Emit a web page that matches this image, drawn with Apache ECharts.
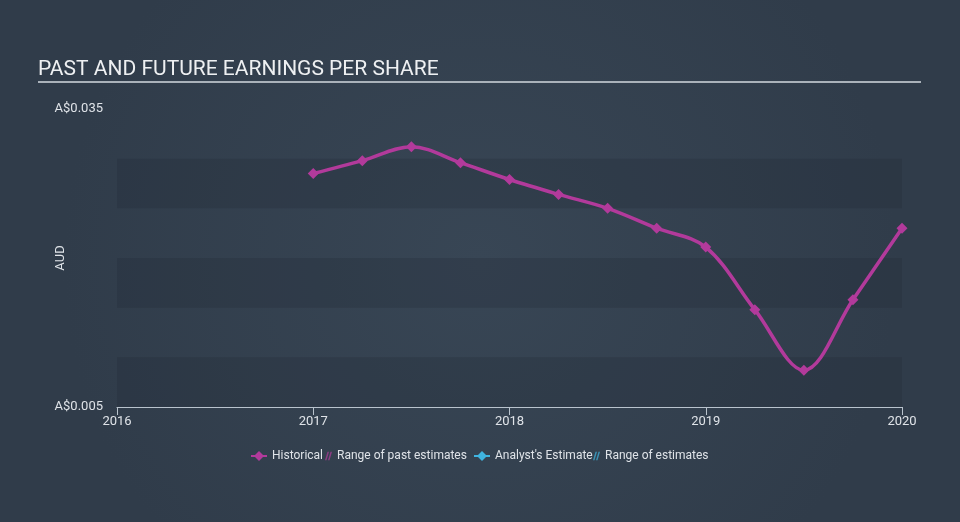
<!DOCTYPE html>
<html>
<head>
<meta charset="utf-8">
<script src="https://cdn.jsdelivr.net/npm/echarts@6/dist/echarts.min.js"></script>
<style>
html,body{margin:0;padding:0;background:#333f4d;}
#chart{width:960px;height:522px;}
</style>
</head>
<body>
<div id="chart"></div>
<script>
// Data
var years = [2017, 2017.25, 2017.5, 2017.75, 2018, 2018.25, 2018.5, 2018.75, 2019, 2019.25, 2019.5, 2019.75, 2020];
var eps = [0.0285, 0.0298, 0.0312, 0.0296, 0.0279, 0.0264, 0.0250, 0.0230, 0.0211, 0.0148, 0.0087, 0.0158, 0.0230];
var xTicks = [2016, 2017, 2018, 2019, 2020];
var yMin = 0.005, yMax = 0.035;

var chart = echarts.init(document.getElementById('chart'), null, {renderer: 'canvas'});
var textColor = '#dfe3e8';
var histColor = '#b23a9b';
var estColor = '#3fb4e0';

var option = {
  backgroundColor: {
    type: 'radial', x: 0.5, y: 0.5, r: 0.8,
    colorStops: [{offset: 0, color: '#384655'}, {offset: 1, color: '#303c4a'}]
  },
  title: {
    text: 'PAST AND FUTURE EARNINGS PER SHARE',
    left: 38, top: 59, padding: 0,
    textStyle: {color: '#eef0f2', fontFamily: 'Roboto', fontWeight: 'normal', fontSize: 21}
  },
  graphic: [{
    type: 'line', shape: {x1: 38, y1: 82, x2: 921, y2: 82},
    style: {stroke: '#aab2ba', lineWidth: 2}
  }],
  legend: [
    {data: [{name: 'Historical', icon: 'path://M0,4L4,4L8,0L12,4L16,4L16,6L12,6L8,10L4,6L0,6Z'}],
     left: 251, top: 450, padding: 0, itemWidth: 16, itemHeight: 10,
     textStyle: {color: textColor, fontFamily: 'Roboto', fontSize: 12}},
    {data: [{name: 'Range of past estimates', icon: 'path://M0,10L1.8,10L4.8,0L3,0Z M3.6,10L5.4,10L8.4,0L6.6,0Z'}],
     left: 325, top: 450, padding: 0, itemWidth: 7, itemHeight: 9,
     textStyle: {color: textColor, fontFamily: 'Roboto', fontSize: 12}},
    {data: [{name: "Analyst's Estimate", icon: 'path://M0,4L4,4L8,0L12,4L16,4L16,6L12,6L8,10L4,6L0,6Z'}],
     left: 474, top: 450, padding: 0, itemWidth: 16, itemHeight: 10,
     textStyle: {color: textColor, fontFamily: 'Roboto', fontSize: 12}},
    {data: [{name: 'Range of estimates', icon: 'path://M0,10L1.8,10L4.8,0L3,0Z M3.6,10L5.4,10L8.4,0L6.6,0Z'}],
     left: 593, top: 450, padding: 0, itemWidth: 7, itemHeight: 9,
     textStyle: {color: textColor, fontFamily: 'Roboto', fontSize: 12}}
  ],
  grid: {left: 117, right: 58, top: 109, bottom: 115, containLabel: false},
  xAxis: {
    type: 'value', min: 2016, max: 2020, interval: 1,
    axisLine: {show: true, lineStyle: {color: '#b9c3cd', width: 1}},
    axisTick: {show: true, length: 8, lineStyle: {color: '#b9c3cd'}},
    axisLabel: {color: textColor, fontFamily: 'Roboto', fontSize: 13, margin: 8,
      formatter: function(v){ return xTicks.indexOf(v) >= 0 ? String(v) : ''; }},
    splitLine: {show: false}
  },
  yAxis: {
    type: 'value', min: yMin, max: yMax, interval: 0.005,
    name: 'AUD', nameLocation: 'middle', nameGap: 50, nameRotate: 90, nameMoveOverlap: false,
    nameTextStyle: {color: textColor, fontFamily: 'Roboto', fontSize: 13},
    axisLine: {show: false}, axisTick: {show: false},
    axisLabel: {color: textColor, fontFamily: 'Roboto', fontSize: 13, margin: 14,
      formatter: function(v){
        if (Math.abs(v - yMin) < 1e-9) return 'A$0.005';
        if (Math.abs(v - yMax) < 1e-9) return 'A$0.035';
        return '';
      }},
    splitLine: {show: false},
    splitArea: {show: true, areaStyle: {color: ['rgba(30,40,52,0.25)', 'rgba(0,0,0,0)']}}
  },
  series: [
    {name: 'Historical', type: 'line', smooth: 0.35,
     data: years.map(function(y, i){ return [y, eps[i]]; }),
     symbol: 'diamond', symbolSize: 11,
     itemStyle: {color: histColor}, lineStyle: {color: histColor, width: 3.5}},
    {name: 'Range of past estimates', type: 'line', data: [], itemStyle: {color: 'rgba(178,58,155,0.7)'}},
    {name: "Analyst's Estimate", type: 'line', data: [], itemStyle: {color: estColor}},
    {name: 'Range of estimates', type: 'line', data: [], itemStyle: {color: 'rgba(63,180,224,0.7)'}}
  ]
};
chart.setOption(option);
</script>
</body>
</html>
